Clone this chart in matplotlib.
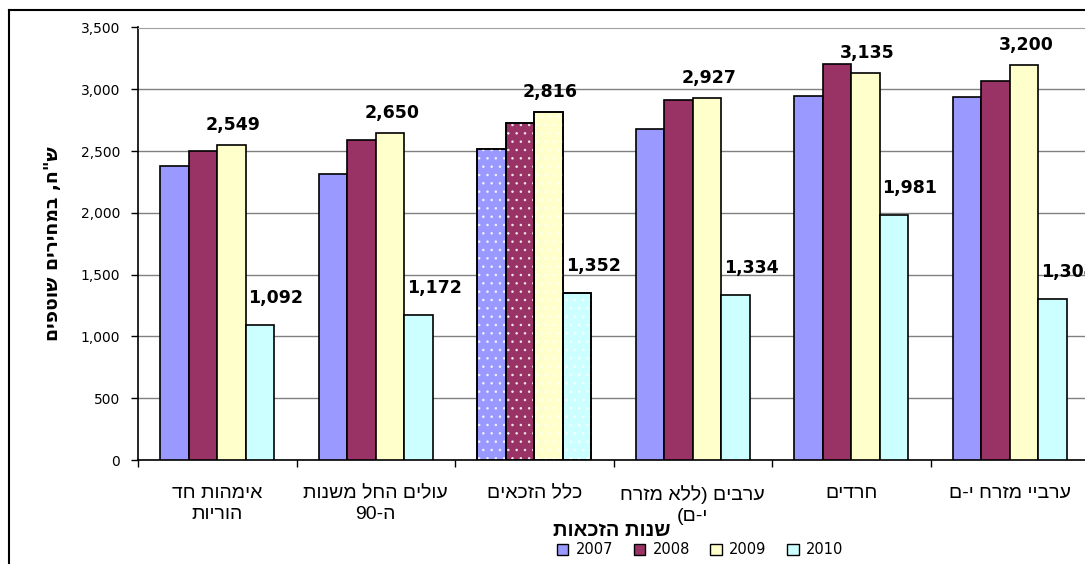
import re
import matplotlib as mpl
mpl.use('Agg')
import matplotlib.pyplot as plt
from matplotlib.patches import Patch
from matplotlib.lines import Line2D
import numpy as np

# data
categories = ['אימהות חד\nהוריות', 'עולים החל משנות\nה-90', 'כלל הזכאים',
              'ערבים (ללא מזרח\nי-ם)', 'חרדים', 'ערביי מזרח י-ם']
years = ['2007', '2008', '2009', '2010']
v2007 = [2382, 2315, 2517, 2679, 2943, 2940]
v2008 = [2503, 2592, 2727, 2913, 3205, 3067]
v2009 = [2549, 2650, 2816, 2927, 3135, 3200]
v2010 = [1092, 1172, 1352, 1334, 1981, 1304]
series = [v2007, v2008, v2009, v2010]
colors = ['#9999FF', '#993366', '#FFFFCC', '#CCFFFF']
labelled = [2, 3]          # which series get value labels
dotted_group = 2           # "כלל הזכאים" drawn with dots

ylabel = 'ש"ח, במחירים שוטפים'
xlabel = 'שנות הזכאות'


def rtl(s):
    # matplotlib has no bidi: put hebrew in visual order, keep numbers
    parts = re.findall(r'\d[\d,.]*|.', s)[::-1]
    mirror = {'(': ')', ')': '('}
    return ''.join(mirror.get(p, p) for p in parts)


def rtl_lines(s):
    return '\n'.join(rtl(line) for line in s.split('\n'))


plt.rcParams['font.family'] = ['DejaVu Sans']
plt.rcParams['hatch.linewidth'] = 0.6
heb = ['Liberation Sans', 'DejaVu Sans']

W, H = 1085, 564
fig = plt.figure(figsize=(W / 100, H / 100), dpi=100)
ax = fig.add_axes([138 / W, 1 - 460 / H, (1089 - 138) / W, (460 - 27.5) / H])

x = np.arange(len(categories)) + 0.5
bw = 0.18
for k, (vals, c) in enumerate(zip(series, colors)):
    xs = x + (k - 1.5) * bw
    ax.bar(xs, vals, bw, color=c, edgecolor='black', linewidth=1.2, zorder=3)
    # white dotted pattern on one group
    ax.bar(xs[dotted_group], vals[dotted_group], bw, facecolor='none',
           edgecolor=(1, 1, 1, 0.8), linewidth=0, hatch='..', zorder=4)
    ax.bar(xs[dotted_group], vals[dotted_group], bw, facecolor='none',
           edgecolor='black', linewidth=1.2, zorder=5)
    if k in labelled:
        off = (2, 20) if k == 2 else (16, 27)
        for xi, v in zip(xs, vals):
            ax.annotate(f'{v:,}', (xi, v), xytext=off, textcoords='offset pixels',
                        ha='center', va='center', fontsize=12.5,
                        fontweight='bold', zorder=6, annotation_clip=False)

ax.set_xlim(0, 6)
ax.set_ylim(0, 3500)
ax.set_yticks(np.arange(0, 3501, 500))
ax.yaxis.set_major_formatter(mpl.ticker.FuncFormatter(lambda v, p: f'{v:,.0f}'))
ax.tick_params(axis='y', direction='out', length=5, width=1, labelsize=10, pad=8)
ax.grid(axis='y', color='#808080', linewidth=1, zorder=0)

ax.set_xticks(np.arange(0, 7))
ax.set_xticklabels([])
ax.tick_params(axis='x', which='major', direction='out', length=5, width=1)
ax.set_xticks(x, minor=True)
ax.set_xticklabels([rtl_lines(c) for c in categories], minor=True,
                   fontsize=14, family=heb, linespacing=1.3)
ax.tick_params(axis='x', which='minor', length=0, pad=18)

for s in ['left', 'bottom']:
    ax.spines[s].set_color('black')
    ax.spines[s].set_linewidth(1.2)
ax.spines['top'].set_color('#A0A0A0')
ax.spines['right'].set_visible(False)

ax.set_ylabel(rtl(ylabel), fontsize=13.5, fontweight='bold', labelpad=13)
fig.text(612 / W, 1 - 531 / H, rtl(xlabel), ha='center', va='center',
         fontsize=14.5, fontweight='bold', family=heb)

handles = [Patch(facecolor=c, edgecolor='black', linewidth=1) for c in colors]
fig.legend(handles, years, loc='center', bbox_to_anchor=(700 / W, 1 - 550 / H),
           ncol=4, frameon=False, fontsize=10.5, handlelength=0.8,
           handleheight=0.8, handletextpad=0.5, columnspacing=1.4)

# outer chart frame (only top and left edges are in view)
fig.add_artist(Line2D([9 / W, 1], [1 - 10 / H, 1 - 10 / H], color='black', linewidth=1.5))
fig.add_artist(Line2D([9 / W, 9 / W], [0, 1 - 10 / H], color='black', linewidth=1.5))

plt.savefig('out.png', dpi=100)
